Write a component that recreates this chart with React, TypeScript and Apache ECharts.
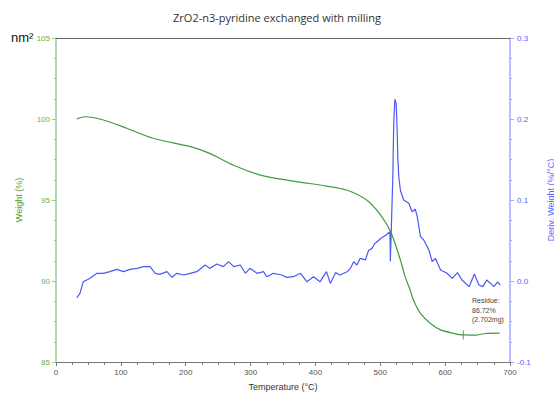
import React, { useEffect, useRef } from "react";
import * as echarts from "echarts";

const weightTemps = [32, 45, 73, 109, 150, 207, 237, 273, 315, 366, 417, 448, 479, 500, 516, 531, 538, 546, 551, 562, 577, 593, 613, 628, 646, 662, 684];
const weightValues = [100.0, 100.14, 99.94, 99.43, 98.81, 98.29, 97.88, 97.16, 96.54, 96.17, 95.86, 95.62, 95.0, 94.1, 93.04, 91.3, 90.3, 89.44, 88.83, 88.0, 87.39, 86.98, 86.77, 86.67, 86.66, 86.76, 86.78];

const derivTemps = [32, 37, 42, 52, 63, 73, 83, 94, 104, 114, 125, 135, 145, 153, 160, 171, 179, 186, 197, 207, 217, 230, 237, 248, 258, 266, 274, 284, 292, 299, 310, 320, 325, 335, 348, 356, 366, 377, 387, 397, 407, 417, 423, 431, 438, 449, 454, 459, 464, 469, 477, 482, 487, 491, 495, 501, 509, 515, 515.5, 519.5, 520, 521, 522.5, 524.5, 526, 527, 528.5, 531, 536, 544, 549, 554, 557, 562, 567, 575, 580, 585, 593, 603, 611, 619, 626, 637, 645, 652, 658, 664, 670, 675, 681, 685];
const derivValues = [-0.021, -0.015, -0.001, 0.003, 0.0095, 0.0095, 0.0115, 0.0144, 0.0115, 0.0144, 0.0156, 0.0177, 0.0177, 0.0095, 0.0082, 0.0115, 0.0045, 0.0095, 0.0074, 0.0095, 0.0115, 0.0198, 0.0156, 0.021, 0.0177, 0.0239, 0.0177, 0.0198, 0.0095, 0.0156, 0.0095, 0.0115, 0.0053, 0.0095, 0.0074, 0.0045, 0.0053, 0.0095, -0.001, 0.0053, -0.001, 0.0115, -0.003, 0.0103, 0.0074, 0.0115, 0.0156, 0.0239, 0.0198, 0.028, 0.026, 0.038, 0.04, 0.0457, 0.0485, 0.0527, 0.0568, 0.0609, 0.024, 0.133, 0.1638, 0.2, 0.2243, 0.219, 0.186, 0.153, 0.129, 0.112, 0.1, 0.096, 0.0856, 0.0885, 0.0794, 0.0547, 0.0506, 0.0383, 0.024, 0.028, 0.0136, 0.0095, 0.0033, 0.0103, 0.0012, -0.007, 0.0086, -0.005, -0.007, 0.0012, -0.003, -0.007, -0.0012, -0.005];

const residueMarker = [628, 86.67];
const residueLines = ["Residue:", "86.72%", "(2.702mg)"];

const titleText = "ZrO2-n3-pyridine exchanged with milling";

export default function App() {
  const ref = useRef<HTMLDivElement>(null);
  useEffect(() => {
    if (!ref.current) return;
    const chart = echarts.init(ref.current, undefined, { renderer: "svg" });
    const font = "Liberation Sans, Arial, sans-serif";
    const green = "#3f9b3f";
    const greenAxis = "#8fd08f";
    const greenLabel = "#6fb035";
    const blue = "#4a58f5";
    const blueAxis = "#a3aaff";
    const blueLabel = "#5462ff";
    chart.setOption({
      animation: false,
      backgroundColor: "#ffffff",
      title: {
        text: titleText,
        left: "center",
        top: 7,
        textStyle: { fontFamily: "Open Sans, sans-serif", fontSize: 11, fontWeight: "normal", color: "#333" },
      },
      grid: { left: 56, right: 44, top: 38, bottom: 32, containLabel: false, outerBoundsMode: "none" },
      xAxis: [
        {
          type: "value",
          min: 0,
          max: 700,
          interval: 100,
          name: "Temperature (°C)",
          nameLocation: "middle",
          nameGap: 20,
          nameTextStyle: { fontFamily: font, fontSize: 9, color: "#333" },
          axisLine: { show: true, onZero: false, lineStyle: { color: "#777", width: 1 } },
          axisTick: { show: true, length: 4, inside: false, lineStyle: { color: "#777" } },
          minorTick: { show: true, splitNumber: 4, length: 3, lineStyle: { color: "#777" } },
          axisLabel: { fontFamily: font, fontSize: 8, color: "#555", margin: 6 },
          splitLine: { show: false },
        },
        {
          type: "value",
          position: "top",
          min: 0,
          max: 700,
          axisLine: { show: true, onZero: false, lineStyle: { color: "#666", width: 1 } },
          axisTick: { show: false },
          axisLabel: { show: false },
          splitLine: { show: false },
        },
      ],
      yAxis: [
        {
          type: "value",
          min: 85,
          max: 105,
          interval: 5,
          position: "left",
          name: "Weight (%)",
          nameLocation: "middle",
          nameGap: 33,
          nameTextStyle: { fontFamily: font, fontSize: 9, color: "#4f9e2a" },
          axisLine: { show: true, onZero: false, lineStyle: { color: greenAxis, width: 1.5 } },
          axisTick: { show: true, length: 4, lineStyle: { color: greenAxis } },
          minorTick: { show: true, splitNumber: 4, length: 2, lineStyle: { color: greenAxis } },
          axisLabel: { fontFamily: font, fontSize: 8, color: greenLabel, margin: 6 },
          splitLine: { show: false },
        },
        {
          type: "value",
          min: -0.1,
          max: 0.3,
          interval: 0.1,
          position: "right",
          name: "Deriv. Weight (%/°C)",
          nameLocation: "middle",
          nameGap: 36,
          nameRotate: 90,
          nameTextStyle: { fontFamily: font, fontSize: 9, color: blueLabel },
          axisLine: { show: true, onZero: false, lineStyle: { color: blueAxis, width: 1.5 } },
          axisTick: { show: true, length: 4, lineStyle: { color: blueAxis } },
          minorTick: { show: true, splitNumber: 4, length: 2, lineStyle: { color: blueAxis } },
          axisLabel: {
            fontFamily: font,
            fontSize: 8,
            color: blueLabel,
            margin: 7,
            formatter: (v: number) => v.toFixed(1),
          },
          splitLine: { show: false },
        },
      ],
      series: [
        {
          type: "line",
          name: "Weight",
          xAxisIndex: 0,
          yAxisIndex: 0,
          data: weightTemps.map((t, i) => [t, weightValues[i]]),
          smooth: 0.3,
          showSymbol: false,
          lineStyle: { color: green, width: 1.2 },
          z: 3,
        },
        {
          type: "line",
          name: "Deriv. Weight",
          xAxisIndex: 0,
          yAxisIndex: 1,
          data: derivTemps.map((t, i) => [t, derivValues[i]]),
          showSymbol: false,
          lineStyle: { color: blue, width: 1.2 },
          z: 2,
        },
        {
          type: "scatter",
          xAxisIndex: 0,
          yAxisIndex: 0,
          data: [residueMarker],
          symbol: "rect",
          symbolSize: [1, 9],
          itemStyle: { color: "#666" },
          z: 4,
        },
      ],
      graphic: [
        {
          type: "text",
          left: 11,
          top: 31,
          style: { text: "nm²", fontFamily: font, fontSize: 13, fill: "#111" },
        },
        {
          type: "text",
          left: 472,
          top: 296,
          style: {
            text: residueLines.join("\n"),
            fontFamily: font,
            fontSize: 7,
            lineHeight: 9.5,
            fill: "#444",
          },
        },
      ],
    });
    return () => chart.dispose();
  }, []);
  return (
    <div
      ref={ref}
      style={{ position: "fixed", left: 0, top: 0, width: 554, height: 394 }}
    />
  );
}
